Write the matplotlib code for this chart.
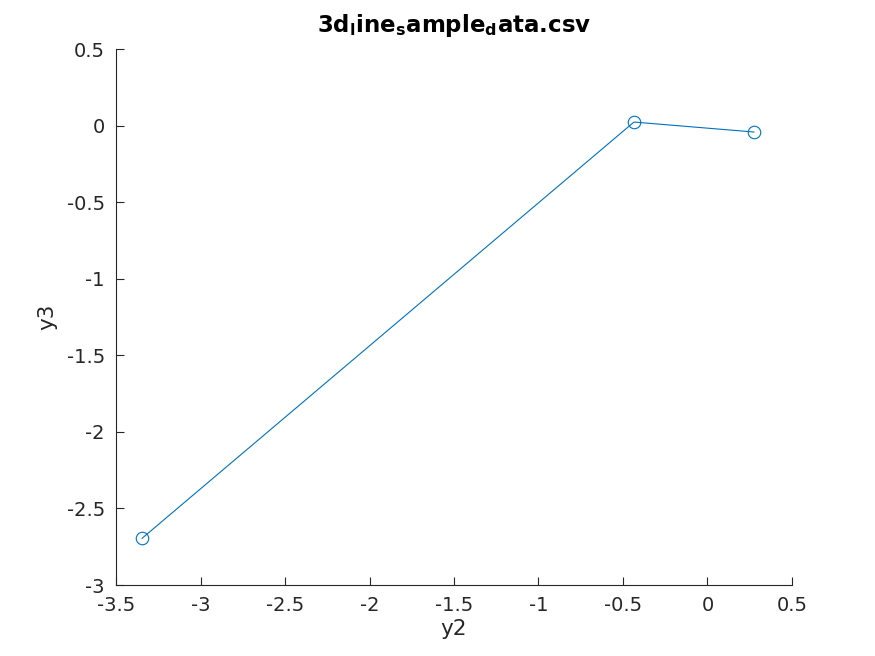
import matplotlib
matplotlib.use("Agg")
import matplotlib.pyplot as plt

# values
y2 = [-3.346, -0.435, 0.275]
y3 = [-2.695, 0.023, -0.042]
xticks = [-3.5, -3, -2.5, -2, -1.5, -1, -0.5, 0, 0.5]
yticks = [-3, -2.5, -2, -1.5, -1, -0.5, 0, 0.5]

plt.rcParams["font.family"] = "DejaVu Sans"
ax_color = "#262626"

fig = plt.figure(figsize=(8.75, 6.56), dpi=100)
ax = fig.add_axes([0.1326, 0.1082, 0.7725, 0.8171])

ax.plot(y2, y3, color="#0072BD", linewidth=0.8, marker="o", markersize=9,
        markerfacecolor="none", markeredgewidth=0.8)

ax.set_xlim(-3.5, 0.5)
ax.set_ylim(-3, 0.5)
ax.set_xticks(xticks)
ax.set_yticks(yticks)
ax.set_xticklabels([f"{v:g}" for v in xticks])
ax.set_yticklabels([f"{v:g}" for v in yticks])

for s in ["top", "right"]:
    ax.spines[s].set_visible(False)
for s in ["left", "bottom"]:
    ax.spines[s].set_color(ax_color)
    ax.spines[s].set_linewidth(0.8)

ax.tick_params(direction="in", length=6, width=0.8, colors=ax_color,
               labelsize=14, pad=8)

ax.set_xlabel("y2", fontsize=15.5, color=ax_color, labelpad=3)
ax.set_ylabel("y3", fontsize=15.5, color=ax_color, labelpad=7)
ax.set_title(r"3d$_\mathbf{l}$ine$_\mathbf{s}$ample$_\mathbf{d}$ata.csv",
             fontsize=16.5, fontweight="bold", color="black", pad=12)

fig.savefig("out.png", dpi=100)
